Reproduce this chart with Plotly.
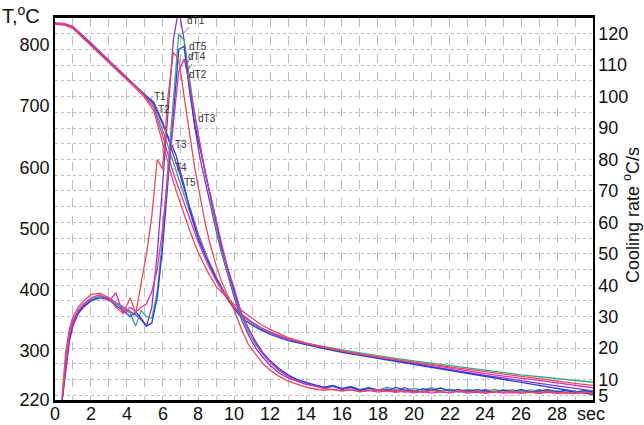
import plotly.graph_objects as go

# ---------------- data ----------------
t_temp = [0, 0.5, 1, 1.5, 2, 2.5, 3, 3.5, 4, 4.5, 5, 5.5, 6, 6.25, 6.5, 6.75, 7, 7.25, 7.5, 7.75, 8,
          8.5, 9, 9.5, 10, 10.5, 11, 11.5, 12, 13, 14, 15, 16, 17, 18, 19, 20, 21, 22, 23, 24, 25,
          26, 27, 28, 29, 30]

T1 = [835, 834, 829, 816, 802, 788, 774, 760, 746, 732, 719, 707, 674, 652, 630, 607, 585, 560, 537, 512, 490,
      452, 420, 393, 371, 356, 345, 336, 329, 319, 311, 305, 299, 294, 289, 284, 280, 275, 270, 265, 260, 256,
      251, 247, 243, 239, 235]
T2 = [835, 834, 830, 817, 803, 789, 775, 761, 747, 733, 719, 702, 662, 640, 617, 594, 572, 550, 528, 506, 486,
      450, 418, 392, 372, 357, 346, 337, 330, 320, 313, 307, 302, 297, 292, 288, 284, 280, 276, 272, 268, 265,
      261, 258, 255, 252, 249]
T3 = [834, 833, 828, 815, 801, 787, 773, 759, 745, 731, 718, 705, 670, 652, 635, 620, 592, 565, 533, 506, 482,
      448, 417, 390, 368, 352, 342, 334, 327, 317, 310, 304, 298, 293, 288, 283, 279, 274, 268, 263, 258, 253,
      248, 244, 239, 234, 229]
T4 = [836, 835, 830, 817, 803, 789, 775, 761, 747, 732, 717, 698, 652, 625, 600, 578, 558, 538, 518, 497, 477,
      443, 414, 391, 372, 358, 347, 338, 331, 320, 312, 306, 300, 295, 290, 285, 281, 277, 272, 268, 263, 259,
      256, 252, 248, 244, 240]
T5 = [834, 833, 827, 813, 799, 785, 772, 758, 744, 729, 714, 693, 640, 612, 586, 562, 540, 519, 498, 478, 460,
      430, 405, 390, 376, 364, 353, 343, 335, 322, 313, 306, 300, 295, 290, 286, 282, 278, 274, 270, 266, 262,
      258, 255, 251, 247, 244]

t_rate = [0.4, 0.6, 0.8, 1.0, 1.3, 1.6, 2.0, 2.5, 3.0, 3.4, 3.8, 4.2, 4.5, 4.8, 5.1, 5.4, 5.7, 6.0,
          6.3, 6.6, 6.9, 7.2, 7.5, 7.8, 8.1, 8.4, 8.7, 9.0, 9.3, 9.6, 10.0, 10.4, 10.8, 11.2, 11.6, 12.0,
          12.5, 13.0, 13.5, 14.0, 14.5, 15.0, 15.5, 16.0, 16.5, 17.0, 17.5, 18.0, 18.5, 19.0, 19.5, 20.0,
          20.5, 21.0, 21.5, 22.0, 22.5, 23.0, 23.5, 24.0, 24.5, 25.0, 25.5, 26.0, 26.5, 27.0, 27.5, 28.0,
          28.5, 29.0, 29.5, 30.0]

dT1 = [3.5, 12, 22, 27, 31, 33, 35, 36.5, 36, 34.5, 33, 31.5, 30.5, 29, 27, 33, 50, 72,
       95, 118, 128, 118, 103, 90, 80, 72, 64, 57, 50, 44, 36, 29, 24, 20, 17, 14.5,
       12, 10.5, 9.5, 8.5, 8, 7.2, 7.8, 6.8, 7.5, 6.5, 7.2, 6.4, 7, 6.2, 7.4, 6.5,
       6.1, 7, 6.3, 6.8, 6, 6.6, 5.9, 6.9, 6.2, 6.6, 5.8, 6.5, 6.1, 6.8, 5.9, 6.4, 5.7, 6.3, 5.8, 6.0]
dT2 = [4, 17, 25, 29, 32, 34, 35.5, 36.5, 35.5, 34, 32.5, 31, 27, 32, 30, 29.5, 38, 55,
       78, 100, 120, 118, 106, 94, 84, 75, 66, 58, 51, 45, 37, 30, 25, 21, 18, 15.5,
       13, 11, 10, 9, 8.2, 7.6, 8, 7.2, 7.8, 6.9, 7.5, 6.6, 7.6, 6.8, 6.3, 7.2,
       6.6, 7.4, 6.4, 7, 6.2, 6.9, 6.5, 6.1, 6.9, 6.3, 6.8, 6, 6.7, 6.2, 6.6, 5.9, 6.5, 6.1, 6.4, 6.2]
dT3 = [3.5, 14, 23, 28, 31.5, 33.5, 35, 36, 35.5, 33.5, 32, 30, 31.5, 29.5, 27, 28, 36, 52,
       74, 96, 115, 116, 102, 91, 83, 75, 67, 59, 52, 46, 38, 31, 26, 22, 18.5, 16,
       13.5, 11.5, 10, 9, 8.3, 7.5, 8.1, 7.1, 7.7, 6.6, 7.3, 6.9, 6.3, 7.5, 6.7, 6.2,
       7.1, 6.5, 7.3, 6.3, 6.9, 6.1, 6.8, 6.4, 5.9, 6.7, 6.2, 6.9, 6, 6.4, 6.8, 6.1, 6.6, 5.9, 6.5, 6.1]
dT4 = [4, 15, 24, 28.5, 32, 34, 36, 37, 35, 37.5, 31, 33, 31.5, 33, 34, 38, 45, 58,
       75, 92, 108, 112, 104, 94, 84, 75, 68, 60, 53, 46, 39, 31, 26, 21.5, 18, 15.5,
       12.8, 11, 9.6, 8.6, 7.9, 7.2, 6.8, 6.5, 6.9, 6.2, 6.6, 6, 6.4, 5.9, 6.3, 5.8,
       6.2, 5.7, 6.1, 5.8, 6.3, 5.7, 6, 5.6, 6.1, 5.7, 5.9, 5.6, 6, 5.5, 5.9, 5.6, 5.8, 5.5, 5.9, 5.6]
dT5 = [5, 19, 26, 30, 33, 35, 37, 37.5, 36, 33, 31, 36, 31, 40, 50, 62, 80, 77,
       100, 114, 112, 100, 88, 77, 68, 59, 52, 46, 41, 37, 32, 26, 21, 18, 15, 13,
       11, 9.5, 8.5, 7.6, 7, 6.6, 6.9, 6.3, 6.7, 6.1, 6.5, 6.8, 6.2, 6.6, 6, 6.4,
       5.9, 6.5, 6.1, 5.8, 6.4, 6, 6.3, 5.8, 6.2, 5.9, 6.3, 5.7, 6.1, 5.8, 6.2, 5.7, 6, 5.6, 5.9, 5.7]

x_ticks = [0, 2, 4, 6, 8, 10, 12, 14, 16, 18, 20, 22, 24, 26, 28]
left_ticks = [220, 300, 400, 500, 600, 700, 800]
right_ticks = [5, 10, 20, 30, 40, 50, 60, 70, 80, 90, 100, 110, 120]

temp_names = ["T1", "T2", "T3", "T4", "T5"]
rate_names = ["dT1", "dT2", "dT3", "dT4", "dT5"]
colors = ["#8a34cf", "#3aa88a", "#2a40d4", "#e02fb4", "#ea4a58"]

# label positions: (name, point x, point y, text x, text y)
labels_T = [("T1", 5.35, 713, 5.85, 716), ("T2", 5.6, 697, 6.05, 694), ("T3", 6.5, 635, 7.05, 637),
            ("T4", 6.55, 597, 7.05, 599), ("T5", 7.05, 573, 7.55, 575)]
labels_dT = [("dT1", 7.14, 120, 7.85, 124.3), ("dT5", 7.3, 110, 8.0, 116), ("dT4", 7.36, 108, 7.9, 112.6),
             ("dT2", 7.53, 105.5, 8.0, 107), ("dT3", 7.8, 91.4, 8.45, 93)]

# ---------------- figure ----------------
fig = go.Figure()
temps = [T1, T2, T3, T4, T5]
rates = [dT1, dT2, dT3, dT4, dT5]
for i in range(5):
    fig.add_trace(go.Scatter(x=t_rate, y=rates[i], name=rate_names[i], mode="lines",
                             line=dict(color=colors[i], width=1.3), yaxis="y2"))
for i in range(5):
    fig.add_trace(go.Scatter(x=t_temp, y=temps[i], name=temp_names[i], mode="lines",
                             line=dict(color=colors[i], width=1.3), yaxis="y"))

FAM = "Liberation Sans, Arial, sans-serif"
font_main = dict(family=FAM, size=18, color="#111")
grid_col = "#bdbdbd"

fig.update_layout(
    width=644, height=425,
    margin=dict(l=55, r=51, t=18, b=25),
    paper_bgcolor="white", plot_bgcolor="white",
    showlegend=False,
    font=font_main,
    xaxis=dict(range=[0, 30], tickvals=x_ticks, showticklabels=False, showgrid=True, gridcolor=grid_col,
               griddash="dash", gridwidth=1, showline=True, linecolor="black", linewidth=2.5, mirror=True,
               ticks="", zeroline=False, automargin=False,
               minor=dict(dtick=1, showgrid=True, gridcolor=grid_col, griddash="dash", gridwidth=1)),
    yaxis=dict(range=[220, 844], tickvals=left_ticks, showgrid=False, showline=True,
               linecolor="black", linewidth=1.5, ticks="", zeroline=False, tickfont=font_main,
               automargin=False),
    yaxis2=dict(range=[3.5, 125], tickvals=right_ticks, overlaying="y", side="right",
                showgrid=True, gridcolor=grid_col, griddash="dot", gridwidth=1,
                showline=True, linecolor="black", linewidth=1.5, ticks="", zeroline=False,
                tickfont=font_main, automargin=False,
                minor=dict(dtick=5, showgrid=True, gridcolor=grid_col, griddash="dot", gridwidth=1)),
)

# x tick labels drawn as text just under the axis
for v in x_ticks:
    fig.add_annotation(x=v, y=-14 / 382, xref="x", yref="paper", xanchor="center", yanchor="middle",
                       text=str(v), showarrow=False, font=font_main)

lab_font = dict(family=FAM, size=10, color="#333")
for name, px, py, tx, ty in labels_T:
    fig.add_annotation(x=px, y=py, ax=tx, ay=ty, xref="x", yref="y", axref="x", ayref="y",
                       text=name, showarrow=True, arrowhead=0, arrowwidth=0.8, arrowcolor="#555",
                       font=lab_font)
for name, px, py, tx, ty in labels_dT:
    fig.add_annotation(x=px, y=py, ax=tx, ay=ty, xref="x", yref="y2", axref="x", ayref="y2",
                       text=name, showarrow=True, arrowhead=0, arrowwidth=0.8, arrowcolor="#555",
                       font=lab_font)

# axis titles
fig.add_annotation(x=-55 / 538, y=1 + 3 / 382, xref="paper", yref="paper", xanchor="left", yanchor="middle",
                   text="T,<sup>o</sup>C", showarrow=False,
                   font=dict(family=FAM, size=20, color="#111"))
fig.add_annotation(x=(591 - 55) / 538, y=-14 / 382, xref="paper", yref="paper", xanchor="center",
                   yanchor="middle", text="sec", showarrow=False, font=font_main)
fig.add_annotation(x=(631 - 55) / 538, y=(400 - 215) / 382, xref="paper", yref="paper", xanchor="center",
                   yanchor="middle", text="Cooling rate <sup>o</sup>C/s", textangle=-90, showarrow=False,
                   font=font_main)

fig.write_html("out.html")
